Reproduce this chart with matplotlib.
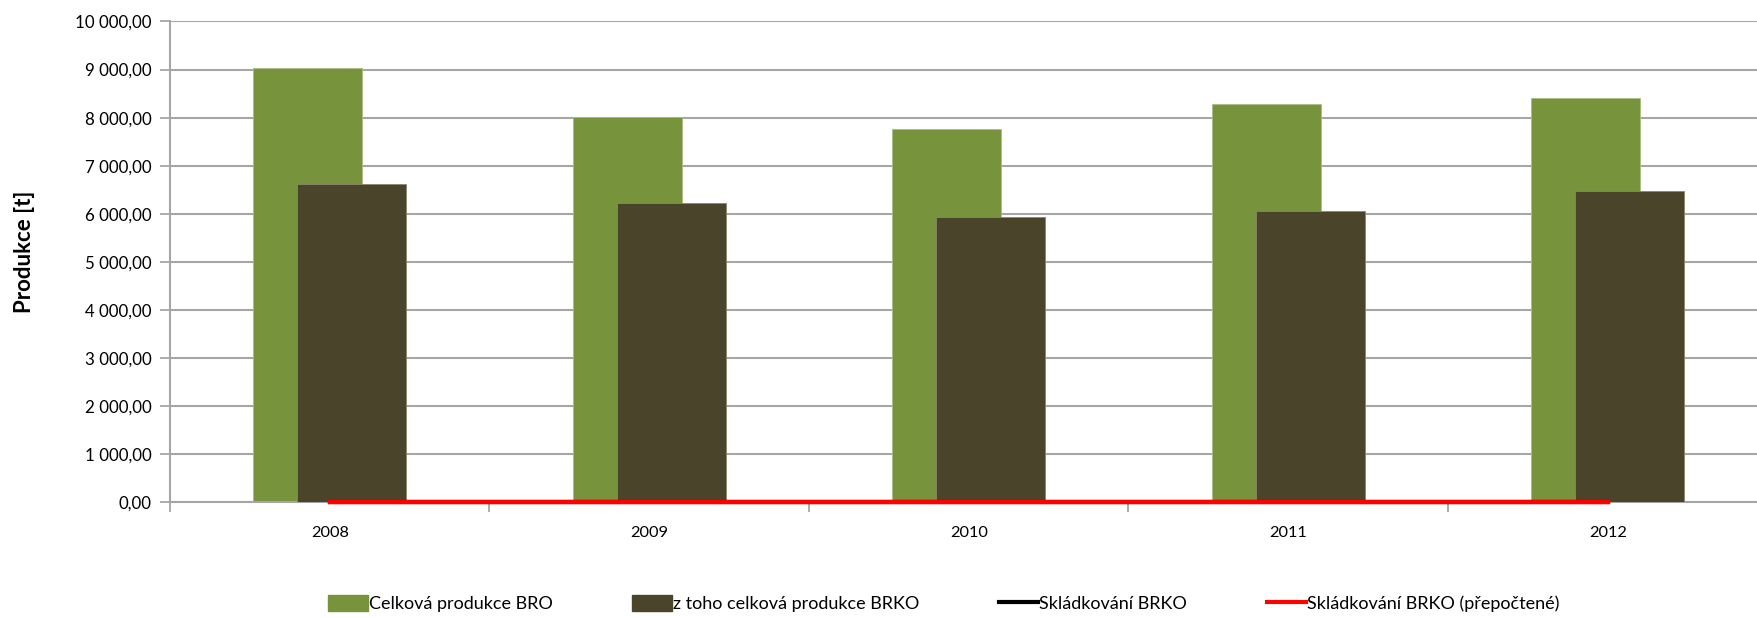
import matplotlib.pyplot as plt
from matplotlib.ticker import FuncFormatter, FixedLocator
from matplotlib.lines import Line2D
from matplotlib.patches import Patch

plt.rcParams['font.family'] = ['Lato', 'DejaVu Sans']

# data
years = ['2008', '2009', '2010', '2011', '2012']
bro = [9030, 8020, 7770, 8280, 8400]          # Celková produkce BRO
brko = [6630, 6220, 5940, 6060, 6470]         # z toho celková produkce BRKO
skladkovani = [0, 0, 0, 0, 0]                 # Skládkování BRKO
skladkovani_prep = [0, 0, 0, 0, 0]            # Skládkování BRKO (přepočtené)

GREEN = '#77933C'
DARK = '#4A452A'
GRID = '#A6A6A6'

fig = plt.figure(figsize=(17.58, 6.17), dpi=100)
ax = fig.add_axes([0.0967, 0.1856, 0.9087, 0.7796])

x = list(range(len(years)))
w = 0.34
off = 0.069
ax.bar([i - off for i in x], bro, width=w, color=GREEN, edgecolor='#A9BE83',
       linewidth=0.6, zorder=2)
ax.bar([i + off for i in x], brko, width=w, color=DARK, edgecolor='#8A8670',
       linewidth=0.6, zorder=3)
ax.plot(x, skladkovani, color='black', lw=3, zorder=4, clip_on=False)
ax.plot(x, skladkovani_prep, color='#FF0000', lw=3.2, zorder=5, clip_on=False)

ax.set_xlim(-0.5, len(years) - 0.5)
ax.set_ylim(0, 10000)
ax.set_yticks(range(0, 10001, 1000))


def fmt(v, pos):
    s = '{:,.2f}'.format(v)
    return s.replace(',', ' ').replace('.', ',')


ax.yaxis.set_major_formatter(FuncFormatter(fmt))
ax.yaxis.grid(True, color=GRID, lw=1.5, zorder=0)
ax.set_axisbelow(True)

ax.set_xticks(x)
ax.set_xticklabels(years)
ax.xaxis.set_minor_locator(FixedLocator([i + 0.5 for i in range(-1, len(years))]))
ax.tick_params(axis='x', which='major', length=0, pad=17, labelsize=11.8)
ax.tick_params(axis='x', which='minor', length=7, width=1.3, color=GRID, direction='out')
ax.tick_params(axis='y', length=7, width=1.3, color=GRID, pad=6, labelsize=12.2)

for s in ['top', 'right']:
    ax.spines[s].set_visible(False)
ax.spines['left'].set_color(GRID)
ax.spines['left'].set_linewidth(1.5)
ax.spines['bottom'].set_color(GRID)
ax.spines['bottom'].set_linewidth(1.5)

fig.text(0.0137, 0.592, 'Produkce [t]', rotation=90, ha='center', va='center',
         fontsize=16, fontweight='bold')

handles = [
    Patch(facecolor=GREEN, edgecolor=GREEN),
    Patch(facecolor=DARK, edgecolor=DARK),
    Line2D([0], [0], color='black', lw=3),
    Line2D([0], [0], color='#FF0000', lw=3),
]
labels = ['Celková produkce BRO', 'z toho celková produkce BRKO',
          'Skládkování BRKO', 'Skládkování BRKO (přepočtené)']
fig.legend(handles, labels, loc='center', bbox_to_anchor=(0.537, 0.022), ncol=4,
           frameon=False, fontsize=13, handlelength=2.2, handleheight=1.0,
           handletextpad=0.05, columnspacing=4.4)

fig.savefig('out.png', dpi=100)
